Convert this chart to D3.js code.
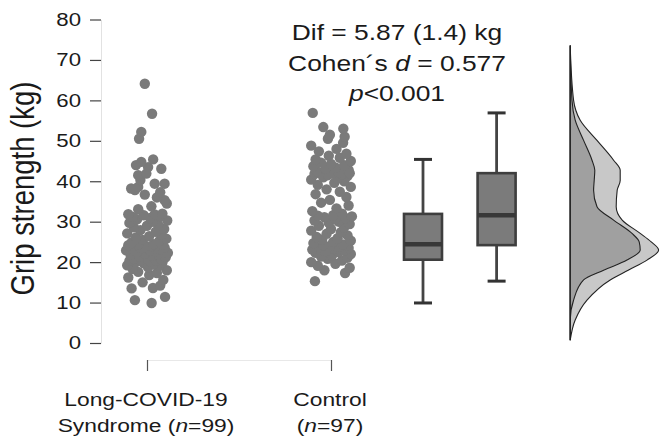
<!DOCTYPE html>
<html>
<head>
<meta charset="utf-8">
<script src="https://cdn.jsdelivr.net/npm/d3@7"></script>
<style>
  body { margin: 0; background: #fff; }
  svg { display: block; font-family: "Liberation Sans", Arial, sans-serif; }
</style>
</head>
<body>
<svg id="chart" width="660" height="441"></svg>
<script>
// grip strength (kg) of each dot
const longCovid = [
  9.9, 10.6, 11.4, 13.5, 13.6, 14.2, 15.0, 15.6, 16.2, 16.8, 17.3, 17.6, 18.0, 18.3, 18.7, 19.0, 19.2, 19.5, 19.7, 19.9, 20.0, 20.2, 20.3, 20.4, 20.5,
  20.7, 20.9, 21.0, 21.2, 21.4, 21.6, 21.8, 22.0, 22.1, 22.3, 22.5, 22.7, 22.9, 23.0, 23.2, 23.4, 23.6, 23.7, 23.9, 24.0, 24.1, 24.2, 24.3, 24.4,
  24.45, 24.9, 25.2, 25.5, 25.8, 26.1, 26.4, 26.8, 27.1, 27.5, 27.9, 28.2, 28.6, 29.0, 29.3, 29.7, 30.0, 30.3, 30.6, 30.9, 31.2, 31.4, 31.6, 31.8, 31.85,
  32.0, 33.1, 33.8, 34.5, 35.3, 36.0, 36.7, 37.3, 37.8, 38.2, 38.6, 39.4, 39.4, 40.3, 41.5, 41.9, 43.1, 43.5, 44.0, 44.8, 45.4,
  50.5, 52.2, 56.7, 64.1
];
// horizontal jitter of each dot, -1..1 of the jitter width
const longCovidJitter = [
  0.21, -0.55, 0.82, -0.7, 0.27, 0.6, -0.2, 0.74, -0.85, 0.1, 0.45, -0.4, 0.9, -0.65, 0.05, 0.55, -0.9, 0.3, -0.15, 0.7, -0.5, 0.15, -0.8, 0.4, -0.3,
  0.65, -0.6, 0.0, 0.85, -0.35, 0.25, -0.75, 0.5, -0.1, 0.95, -0.45, 0.35, -0.95, 0.12, 0.6, -0.25, 0.8, -0.68, 0.2, -0.05, 0.45, -0.85, 0.72, -0.4,
  0.3, -0.7, 0.55, -0.2, 0.88, -0.5, 0.1, 0.65, -0.9, 0.4, -0.3, 0.78, -0.6, 0.0, 0.5, -0.8, 0.25, 0.92, -0.45, 0.15, -0.65, 0.6, -0.15, 0.35, -0.85,
  0.7, -0.4, 0.2, 0.9, 0.8, 0.45, -0.1, 0.6, -0.55, -0.72, -0.4, 0.35, 0.8, -0.3, -0.4, -0.03, 0.65, 0.05, -0.5, -0.26, 0.28,
  -0.36, -0.26, 0.23, -0.1
];
const control = [
  15.3, 17.3, 18.0, 18.6, 19.1, 19.6, 20.0, 20.4, 20.8, 21.1, 21.4, 21.7, 22.0, 22.3, 22.5, 22.7, 22.9, 23.1, 23.3, 23.5, 23.7, 23.8, 24.0, 24.1,
  24.2,
  24.4, 24.7, 25.0, 25.3, 25.6, 25.9, 26.2, 26.6, 27.0, 27.4, 27.8, 28.2, 28.6, 29.0, 29.4, 29.7, 30.0, 30.3, 30.6, 30.9, 31.1, 31.3, 31.5,
  31.6,
  32.0, 32.6, 33.3, 34.0, 34.7, 35.4, 36.1, 36.8, 37.4, 38.0, 38.6, 39.1, 39.6, 40.0, 40.4, 40.7, 41.0, 41.3, 41.5, 41.7, 41.8, 41.9, 42.0,
  42.0,
  42.2, 42.5, 42.8, 43.1, 43.4, 43.7, 44.0, 44.3, 44.6, 45.0, 45.4, 45.8, 46.3, 46.8, 47.4, 48.0, 48.8, 49.5, 50.5, 51.0, 51.5, 53.0, 53.4, 56.9
];
const controlJitter = [
  -0.73, 0.64, -0.3, 0.85, -0.6, 0.2, -0.9, 0.5, -0.15, 0.75, -0.45, 0.05, 0.9, -0.7, 0.35, -0.25, 0.6, -0.85, 0.15, 0.8, -0.5, 0.4, -0.05, 0.7,
  -0.35,
  0.55, -0.8, 0.1, 0.9, -0.4, 0.3, -0.65, 0.75, -0.2, 0.45, -0.9, 0.0, 0.6, -0.55, 0.85, -0.1, 0.35, -0.75, 0.2, 0.65, -0.3, 0.95, -0.6,
  0.1,
  0.5, -0.85, 0.25, 0.8, -0.45, -0.05, 0.7, -0.7, 0.4, -0.2, 0.9, -0.6, 0.15, 0.6, -0.9, 0.3, -0.35, 0.75, -0.15, 0.5, -0.75, 0.05, 0.85,
  -0.5,
  0.35, -0.65, 0.8, -0.25, 0.2, -0.8, 0.6, 0.0, -0.45, 0.9, -0.7, 0.4, -0.1, 0.7, -0.55, 0.25, -0.9, 0.55, -0.14, 0.62, -0.05, 0.56, -0.35, -0.83
];

// half-violin densities on the right
const densityKg = [0.7, 5.7, 10.6, 15.6, 18.0, 20.5, 23.0, 25.0, 27.1, 30.4, 33.7, 37.8, 40.2, 42.7, 45.2, 50.1, 55.1, 60.0, 73.6];
const densityControl = [0, 0.0025, 0.0084, 0.02, 0.029, 0.0384, 0.0442, 0.0405, 0.035, 0.026, 0.023, 0.0235, 0.025, 0.025, 0.0217, 0.0134, 0.005, 0.0017, 0];
const densityLongCovid = [0, 0, 0.0017, 0.0067, 0.0167, 0.0284, 0.035, 0.0345, 0.0309, 0.0217, 0.0134, 0.0117, 0.012, 0.0123, 0.0109, 0.0067, 0.0025, 0.0009, 0];

const yTicks = [0, 10, 20, 30, 40, 50, 60, 70, 80];
const groupNames = ['Long-COVID-19', 'Control'];
const groupSizes = [['Syndrome (', 'n', '=99)'], ['(', 'n', '=97)']];
const statLines = [
  [['Dif = 5.87 (1.4) kg', 'normal']],
  [['Cohen\u00b4s ', 'normal'], ['d', 'italic'], [' = 0.577', 'normal']],
  [['p', 'italic'], ['<0.001', 'normal']]
];

const svg = d3.select('#chart');
const stretch = 1.2;   // the reference text is drawn a bit wide
const ink = '#1a1a1a';

const y = d3.scaleLinear().domain([0, 80]).range([343, 19.5]);
const slot = d3.scaleLinear().domain([0, 1]).range([147, 331]);
const jitterW = 22;
const dens = d3.scaleLinear().domain([0, 0.045]).range([0, 90]);

function wideText(g, x, yy, size, parts, anchor) {
  const t = g.append('text')
    .attr('transform', `translate(${x},${yy}) scale(${stretch},1)`)
    .attr('text-anchor', anchor || 'middle')
    .attr('font-size', size)
    .attr('fill', ink);
  parts.forEach(p => t.append('tspan').attr('font-style', p[1]).text(p[0]));
  return t;
}

// y axis
const yAxis = svg.append('g')
  .attr('transform', 'translate(101,0)')
  .call(d3.axisLeft(y).tickValues(yTicks).tickSize(11).tickPadding(9).tickSizeOuter(0));
yAxis.select('.domain').attr('stroke', '#e2e2e2');
yAxis.selectAll('.tick line').attr('stroke', '#444').attr('stroke-width', 1.2);
yAxis.selectAll('.tick text')
  .attr('font-size', 18.5).attr('fill', ink)
  .attr('font-family', '"Liberation Sans", Arial, sans-serif')
  .attr('x', -20 / stretch)
  .attr('transform', `scale(${stretch},1)`);

svg.append('text')
  .attr('transform', `translate(34,188.5) scale(${stretch},1) rotate(-90)`)
  .attr('text-anchor', 'middle')
  .attr('font-size', 27.5)
  .attr('fill', ink)
  .text('Grip strength (kg)');

// x axis
const xAxis = svg.append('g')
  .attr('transform', 'translate(0,360)')
  .call(d3.axisBottom(slot).tickValues([0, 1]).tickSize(11).tickSizeOuter(0).tickFormat(''));
xAxis.select('.domain').attr('stroke', '#e8e8e8');
xAxis.selectAll('.tick line').attr('stroke', '#555').attr('stroke-width', 1.2);

groupNames.forEach((name, i) => {
  wideText(svg, slot(i) - 1, 406, 19, [[name, 'normal']]);
  const s = groupSizes[i];
  wideText(svg, slot(i) - 1, 432, 19, [[s[0], 'normal'], [s[1], 'italic'], [s[2], 'normal']]);
});

// jittered dots
const dots = [
  { vals: longCovid, jit: longCovidJitter, pos: 0 },
  { vals: control, jit: controlJitter, pos: 1 }
];
dots.forEach(grp => {
  svg.append('g').selectAll('circle')
    .data(grp.vals)
    .join('circle')
    .attr('cx', (d, i) => slot(grp.pos) + grp.jit[i] * jitterW)
    .attr('cy', d => y(d))
    .attr('r', 5.2)
    .attr('fill', '#7a7a7a');
});

// box plots
function boxStats(vals) {
  const s = vals.slice().sort(d3.ascending);
  const q1 = d3.quantile(s, 0.25), med = d3.quantile(s, 0.5), q3 = d3.quantile(s, 0.75);
  const iqr = q3 - q1;
  const lo = d3.min(s.filter(v => v >= q1 - 1.5 * iqr));
  const hi = d3.max(s.filter(v => v <= q3 + 1.5 * iqr));
  return { q1, med, q3, lo, hi };
}
const boxes = [
  { st: boxStats(longCovid), pos: 1.5 },
  { st: boxStats(control), pos: 1.9 }
];
const boxW = 38, capW = 18;
boxes.forEach(b => {
  const cx = slot(b.pos), st = b.st;
  const g = svg.append('g');
  g.append('line').attr('x1', cx).attr('x2', cx).attr('y1', y(st.hi)).attr('y2', y(st.lo))
    .attr('stroke', '#444').attr('stroke-width', 2.8);
  [st.hi, st.lo].forEach(v => {
    g.append('line').attr('x1', cx - capW / 2).attr('x2', cx + capW / 2).attr('y1', y(v)).attr('y2', y(v))
      .attr('stroke', '#333').attr('stroke-width', 3);
  });
  g.append('rect').attr('x', cx - boxW / 2).attr('width', boxW)
    .attr('y', y(st.q3)).attr('height', y(st.q1) - y(st.q3))
    .attr('fill', '#7b7b7b').attr('stroke', '#3e3e3e').attr('stroke-width', 2.6);
  g.append('line').attr('x1', cx - boxW / 2).attr('x2', cx + boxW / 2).attr('y1', y(st.med)).attr('y2', y(st.med))
    .attr('stroke', '#383838').attr('stroke-width', 4.5);
});

// half violins
const base = slot(2.3);
const area = d3.area()
  .y((d, i) => y(densityKg[i]))
  .x0(base)
  .x1(d => base + dens(d))
  .curve(d3.curveMonotoneY);
svg.append('path').attr('d', area(densityControl))
  .attr('fill', '#c8c8c8').attr('stroke', '#222').attr('stroke-width', 1.1);
svg.append('path').attr('d', area(densityLongCovid))
  .attr('fill', '#a0a0a0').attr('stroke', '#222').attr('stroke-width', 1.1);
svg.append('line').attr('x1', base).attr('x2', base)
  .attr('y1', y(densityKg[densityKg.length - 1])).attr('y2', y(densityKg[0]))
  .attr('stroke', '#222').attr('stroke-width', 1.1);

// test statistics
statLines.forEach((parts, i) => {
  wideText(svg, 397, 40 + i * 30.5, 22, parts);
});
</script>
</body>
</html>
